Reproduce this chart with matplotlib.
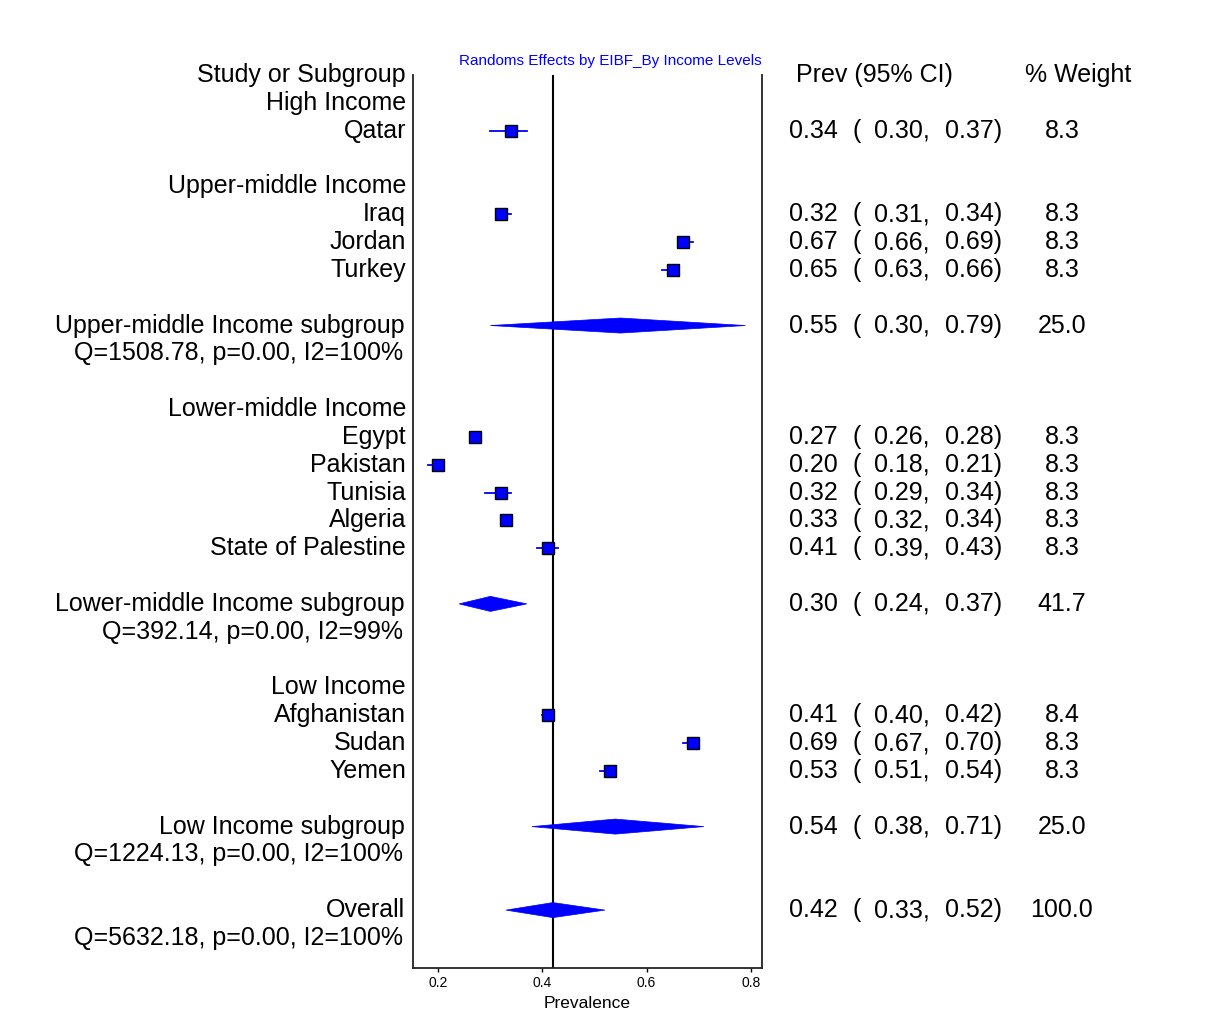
import matplotlib.pyplot as plt
from matplotlib.transforms import blended_transform_factory
from matplotlib.patches import Polygon

plt.rcParams['font.family'] = ['Liberation Sans', 'DejaVu Sans']

# single studies, grouped by income level
studies = ["Qatar",
           "Iraq", "Jordan", "Turkey",
           "Egypt", "Pakistan", "Tunisia", "Algeria", "State of Palestine",
           "Afghanistan", "Sudan", "Yemen"]
study_rows = [2, 5, 6, 7, 13, 14, 15, 16, 17, 23, 24, 25]
study_est = [0.34, 0.32, 0.67, 0.65, 0.27, 0.20, 0.32, 0.33, 0.41, 0.41, 0.69, 0.53]
study_lo = [0.30, 0.31, 0.66, 0.63, 0.26, 0.18, 0.29, 0.32, 0.39, 0.40, 0.67, 0.51]
study_hi = [0.37, 0.34, 0.69, 0.66, 0.28, 0.21, 0.34, 0.34, 0.43, 0.42, 0.70, 0.54]
study_w = [8.3, 8.3, 8.3, 8.3, 8.3, 8.3, 8.3, 8.3, 8.3, 8.4, 8.3, 8.3]

# group headings
groups = ["High Income", "Upper-middle Income", "Lower-middle Income", "Low Income"]
group_rows = [1, 4, 12, 22]

# pooled estimates (subgroups + overall)
pooled = ["Upper-middle Income subgroup", "Lower-middle Income subgroup",
          "Low Income subgroup", "Overall"]
pooled_rows = [9, 19, 27, 30]
pooled_est = [0.55, 0.30, 0.54, 0.42]
pooled_lo = [0.30, 0.24, 0.38, 0.33]
pooled_hi = [0.79, 0.37, 0.71, 0.52]
pooled_w = [25.0, 41.7, 25.0, 100.0]
pooled_het = ["Q=1508.78, p=0.00, I2=100%", "Q=392.14, p=0.00, I2=99%",
              "Q=1224.13, p=0.00, I2=100%", "Q=5632.18, p=0.00, I2=100%"]

xticks = [0.2, 0.4, 0.6, 0.8]

W, H = 1225, 1010
fig = plt.figure(figsize=(W / 100, H / 100), dpi=100)
ax = fig.add_axes([413 / W, 42 / H, 349 / W, 893 / H])
ax.set_xlim(0.1514, 0.8217)
ax.set_ylim(32.08, 0)

ax.spines['top'].set_visible(False)
for s in ['left', 'right', 'bottom']:
    ax.spines[s].set_linewidth(1.3)
    ax.spines[s].set_color('#222222')
ax.set_yticks([])
ax.set_xticks(xticks)
ax.set_xticklabels([f"{t:.1f}" for t in xticks], fontsize=10)
ax.tick_params(axis='x', length=3, width=1, pad=3)
ax.set_xlabel("Prevalence", fontsize=12.5, labelpad=4)

# reference line at the overall estimate
ax.axvline(pooled_est[-1], color='black', lw=1.5, zorder=1)

blue = '#0000ff'
for y, e, lo, hi in zip(study_rows, study_est, study_lo, study_hi):
    ax.plot([lo, hi], [y, y], color=blue, lw=1.3, zorder=2)
    ax.plot(e, y, marker='s', ms=8, mfc=blue, mec='black', mew=1.0, zorder=3)

h = 0.27
for y, e, lo, hi in zip(pooled_rows, pooled_est, pooled_lo, pooled_hi):
    ax.add_patch(Polygon([(lo, y), (e, y - h), (hi, y), (e, y + h)],
                         closed=True, fc=blue, ec=blue, lw=0.5, zorder=3))

ax.text((459 - 413) / 349, 1.0 + 7 / 893, "Randoms Effects by EIBF_By Income Levels",
        transform=ax.transAxes, color=blue, fontsize=11, ha='left', va='bottom')

tr = blended_transform_factory(fig.transFigure, ax.transData)
fs = 18

def fx(px):
    return px / W

# left column: labels
ax.text(fx(406), 0, "Study or Subgroup", transform=tr, ha='right', va='center', fontsize=fs)
for y, g in zip(group_rows, groups):
    ax.text(fx(406), y, g, transform=tr, ha='right', va='center', fontsize=fs)
for y, s in zip(study_rows, studies):
    ax.text(fx(406), y, s, transform=tr, ha='right', va='center', fontsize=fs)
for y, p, q in zip(pooled_rows, pooled, pooled_het):
    ax.text(fx(405), y, p, transform=tr, ha='right', va='center', fontsize=fs)
    ax.text(fx(403), y + 1, q, transform=tr, ha='right', va='center', fontsize=fs)

# right columns: estimate, CI, weight
ax.text(fx(796), 0, "Prev (95% CI)", transform=tr, ha='left', va='center', fontsize=fs)
ax.text(fx(1078), 0, "% Weight", transform=tr, ha='center', va='center', fontsize=fs)

def ci_row(y, e, lo, hi, w):
    ax.text(fx(789), y, f"{e:.2f}", transform=tr, ha='left', va='center', fontsize=fs)
    ax.text(fx(852), y, "(", transform=tr, ha='left', va='center', fontsize=fs)
    ax.text(fx(874), y, f"{lo:.2f},", transform=tr, ha='left', va='center', fontsize=fs)
    ax.text(fx(1002), y, f"{hi:.2f})", transform=tr, ha='right', va='center', fontsize=fs)
    ax.text(fx(1062), y, f"{w:.1f}", transform=tr, ha='center', va='center', fontsize=fs)

for i in range(len(studies)):
    ci_row(study_rows[i], study_est[i], study_lo[i], study_hi[i], study_w[i])
for i in range(len(pooled)):
    ci_row(pooled_rows[i], pooled_est[i], pooled_lo[i], pooled_hi[i], pooled_w[i])

fig.savefig("out.png", dpi=100)
